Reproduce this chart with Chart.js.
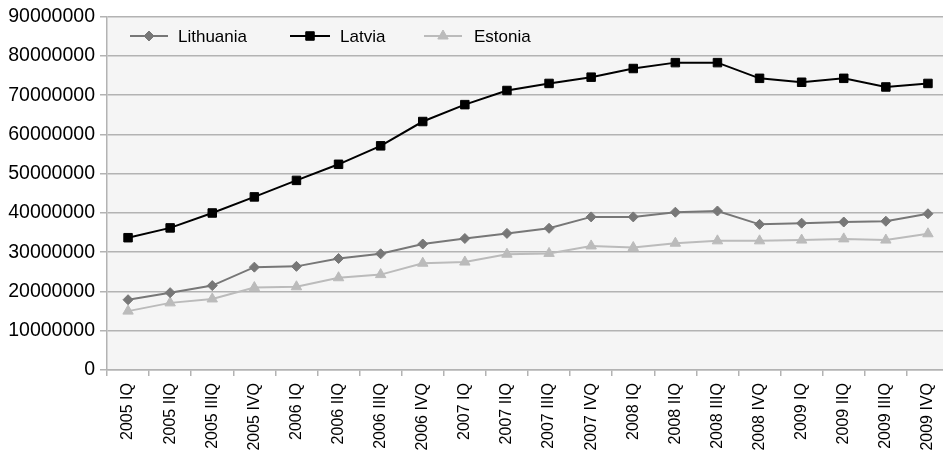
<!DOCTYPE html>
<html>
<head>
<meta charset="utf-8">
<script src="https://cdn.jsdelivr.net/npm/chart.js@4/dist/chart.umd.min.js"></script>
<style>
  html, body { margin: 0; padding: 0; background: #ffffff; overflow: hidden; }
  #wrap { width: 943px; height: 450px; position: relative; overflow: hidden; }
  #chart { position: absolute; left: 0; top: 0; }
</style>
</head>
<body>
<div id="wrap"><canvas id="chart" width="956" height="450"></canvas></div>
<script>
// Quarterly figures for the three Baltic states, 2005–2009
const quarters = [
  '2005 IQ', '2005 IIQ', '2005 IIIQ', '2005 IVQ',
  '2006 IQ', '2006 IIQ', '2006 IIIQ', '2006 IVQ',
  '2007 IQ', '2007 IIQ', '2007 IIIQ', '2007 IVQ',
  '2008 IQ', '2008 IIQ', '2008 IIIQ', '2008 IVQ',
  '2009 IQ', '2009 IIQ', '2009 IIIQ', '2009 IVQ'
];
const lithuania = [
  17900000, 19700000, 21500000, 26200000,
  26400000, 28400000, 29600000, 32100000,
  33500000, 34800000, 36100000, 39000000,
  39000000, 40200000, 40500000, 37100000,
  37400000, 37700000, 37900000, 39800000
];
const latvia = [
  33700000, 36200000, 40000000, 44100000,
  48300000, 52400000, 57100000, 63300000,
  67600000, 71200000, 73000000, 74600000,
  76800000, 78300000, 78300000, 74300000,
  73300000, 74300000, 72100000, 73000000
];
const estonia = [
  15000000, 17100000, 18100000, 21000000,
  21200000, 23500000, 24300000, 27200000,
  27500000, 29500000, 29700000, 31600000,
  31200000, 32300000, 32900000, 32900000,
  33100000, 33400000, 33100000, 34700000
];
const yTicks = [0, 10000000, 20000000, 30000000, 40000000, 50000000, 60000000, 70000000, 80000000, 90000000];

const FONT = "'Liberation Sans', Arial, sans-serif";
const GRID = '#b3b3b3';

function series(label, data, color, style, radius) {
  return {
    label, data,
    borderColor: color,
    backgroundColor: color,
    borderWidth: 2,
    tension: 0,
    pointStyle: style,
    pointRadius: radius,
    pointHoverRadius: radius,
    pointBorderWidth: 1,
    pointBackgroundColor: color,
    pointBorderColor: color
  };
}

// light plot-area fill
const plotFill = {
  id: 'plotFill',
  beforeDraw(chart) {
    const { ctx, chartArea: a } = chart;
    ctx.save();
    ctx.fillStyle = '#f5f5f5';
    ctx.fillRect(a.left, a.top, a.right - a.left, a.bottom - a.top);
    ctx.restore();
  }
};

// legend row drawn inside the plot area: line sample + marker + name
const legendSlots = [
  { x: 130, w: 38, tx: 178 },
  { x: 290, w: 40, tx: 340 },
  { x: 424, w: 38, tx: 474 }
];
const inlineLegend = {
  id: 'inlineLegend',
  afterDraw(chart) {
    const ctx = chart.ctx;
    const y = 36;
    chart.data.datasets.forEach((ds, i) => {
      const s = legendSlots[i];
      ctx.save();
      ctx.strokeStyle = ds.borderColor;
      ctx.lineWidth = ds.borderWidth;
      ctx.beginPath();
      ctx.moveTo(s.x, y);
      ctx.lineTo(s.x + s.w, y);
      ctx.stroke();
      ctx.fillStyle = ds.pointBackgroundColor;
      ctx.strokeStyle = ds.pointBorderColor;
      ctx.lineWidth = ds.pointBorderWidth;
      Chart.helpers.drawPoint(ctx, {
        pointStyle: ds.pointStyle, radius: ds.pointRadius, rotation: 0, borderWidth: ds.pointBorderWidth
      }, s.x + s.w / 2, y);
      ctx.fillStyle = '#000000';
      ctx.font = '17px ' + FONT;
      ctx.textBaseline = 'middle';
      ctx.textAlign = 'left';
      ctx.fillText(ds.label, s.tx, y + 1);
      ctx.restore();
    });
  }
};

new Chart(document.getElementById('chart'), {
  type: 'line',
  data: {
    labels: quarters,
    datasets: [
      series('Lithuania', lithuania, '#777777', 'rectRot', 5),
      series('Latvia', latvia, '#000000', 'rect', 6),
      series('Estonia', estonia, '#bbbbbb', 'triangle', 6)
    ]
  },
  options: {
    responsive: false,
    animation: false,
    events: [],
    layout: { padding: { top: 16, right: 0, left: 0, bottom: 0 } },
    plugins: {
      legend: { display: false },
      tooltip: { enabled: false },
      title: { display: false }
    },
    scales: {
      x: {
        type: 'category',
        offset: true,
        grid: {
          offset: true,
          drawOnChartArea: false,
          drawTicks: true,
          tickLength: 6,
          color: GRID,
          lineWidth: 1.5
        },
        border: { color: GRID, width: 1.5 },
        ticks: {
          autoSkip: false,
          maxRotation: 90,
          minRotation: 90,
          padding: 7,
          color: '#000000',
          font: { family: FONT, size: 16 }
        },
        afterFit(scale) { scale.height = 80; }
      },
      y: {
        min: 0,
        max: 90000000,
        afterBuildTicks(scale) { scale.ticks = yTicks.map(v => ({ value: v })); },
        grid: {
          color: GRID,
          lineWidth: 1.5,
          drawTicks: true,
          tickLength: 7,
          tickColor: GRID
        },
        border: { color: GRID, width: 1.5 },
        ticks: {
          padding: 5,
          color: '#000000',
          font: { family: FONT, size: 19.5 },
          callback: v => String(v)
        },
        afterFit(scale) { scale.width = 107; }
      }
    }
  },
  plugins: [plotFill, inlineLegend]
});
</script>
</body>
</html>
